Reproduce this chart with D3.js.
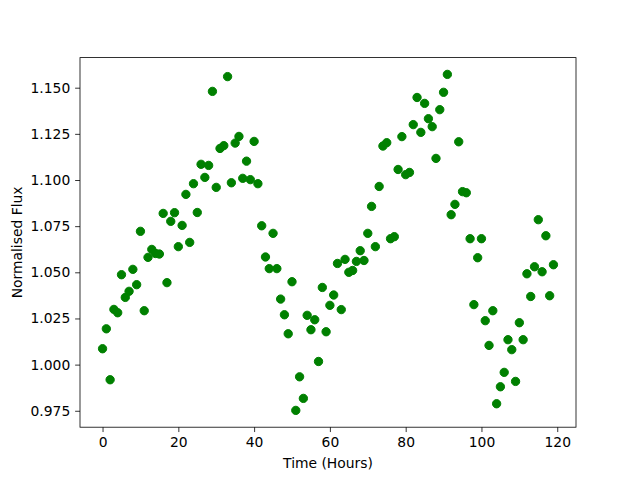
<!DOCTYPE html>
<html>
<head>
<meta charset="utf-8">
<script src="https://cdn.jsdelivr.net/npm/d3@7"></script>
<style>
  html, body { margin: 0; padding: 0; background: #fff; }
  svg { display: block; font-family: "DejaVu Sans", sans-serif; }
</style>
</head>
<body>
<svg id="chart" width="640" height="480"></svg>
<script>
// ---- data ----
const hours = d3.range(0, 120);
const flux = [
  1.0086, 1.0194, 0.9918, 1.0299, 1.0281, 1.0487, 1.0364, 1.0397, 1.0516, 1.0433,
  1.0722, 1.0292, 1.0581, 1.0624, 1.0602, 1.0599, 1.0819, 1.0444, 1.0776, 1.0823,
  1.0639, 1.0754, 1.0922, 1.0662, 1.0980, 1.0824, 1.1085, 1.1014, 1.1079, 1.1480,
  1.0960, 1.1171, 1.1186, 1.1560, 1.0985, 1.1200, 1.1236, 1.1009, 1.1102, 1.1002,
  1.1209, 1.0980, 1.0752, 1.0583, 1.0520, 1.0711, 1.0520, 1.0355, 1.0270, 1.0167,
  1.0449, 0.9752, 0.9934, 0.9817, 1.0267, 1.0189, 1.0243, 1.0017, 1.0418, 1.0178,
  1.0321, 1.0377, 1.0548, 1.0298, 1.0570, 1.0500, 1.0510, 1.0559, 1.0617, 1.0564,
  1.0711, 1.0857, 1.0639, 1.0965, 1.1184, 1.1202, 1.0682, 1.0693, 1.1057, 1.1235,
  1.1029, 1.1041, 1.1300, 1.1447, 1.1258, 1.1415, 1.1332, 1.1289, 1.1117, 1.1381,
  1.1475, 1.1572, 1.0812, 1.0868, 1.1207, 1.0937, 1.0931, 1.0682, 1.0325, 1.0579,
  1.0682, 1.0238, 1.0104, 1.0292, 0.9788, 0.9880, 0.9958, 1.0135, 1.0081, 0.9909,
  1.0227, 1.0135, 1.0492, 1.0369, 1.0530, 1.0785, 1.0503, 1.0698, 1.0373, 1.0541
];
const xTicks = [0, 20, 40, 60, 80, 100, 120];
const yTicks = [0.975, 1.000, 1.025, 1.050, 1.075, 1.100, 1.125, 1.150];
const xLabel = "Time (Hours)";
const yLabel = "Normalised Flux";

// ---- layout (matplotlib defaults) ----
const W = 640, H = 480;
const pLeft = 80, pRight = 576, pTop = 57.6, pBottom = 427.2;
const tickLen = 4.86, tickPad = 4.86, fs = 13.89;

const svg = d3.select("#chart");

function padded(ext) {
  const m = (ext[1] - ext[0]) * 0.05;
  return [ext[0] - m, ext[1] + m];
}
const x = d3.scaleLinear().domain(padded(d3.extent(hours))).range([pLeft, pRight]);
const y = d3.scaleLinear().domain(padded(d3.extent(flux))).range([pBottom, pTop]);

// points
svg.append("g")
  .selectAll("circle")
  .data(hours.map((h, i) => [h, flux[i]]))
  .join("circle")
  .attr("cx", d => x(d[0]))
  .attr("cy", d => y(d[1]))
  .attr("r", 4.17)
  .attr("fill", "#008000")
  .attr("stroke", "#008000")
  .attr("stroke-width", 1);

// axes
const xAxis = svg.append("g")
  .attr("transform", `translate(0,${pBottom})`)
  .call(d3.axisBottom(x).tickValues(xTicks).tickFormat(d3.format("d"))
    .tickSizeInner(tickLen).tickSizeOuter(0).tickPadding(tickPad));
const yAxis = svg.append("g")
  .attr("transform", `translate(${pLeft},0)`)
  .call(d3.axisLeft(y).tickValues(yTicks).tickFormat(d3.format(".3f"))
    .tickSizeInner(tickLen).tickSizeOuter(0).tickPadding(tickPad));

[xAxis, yAxis].forEach(g => {
  g.select(".domain").remove();
  g.selectAll(".tick line").attr("stroke", "#000").attr("stroke-width", 0.8);
  g.selectAll(".tick text")
    .attr("fill", "#000")
    .style("font-family", "'DejaVu Sans', sans-serif")
    .style("font-size", fs + "px");
});

// frame
svg.append("rect")
  .attr("x", pLeft).attr("y", pTop)
  .attr("width", pRight - pLeft).attr("height", pBottom - pTop)
  .attr("fill", "none").attr("stroke", "#000").attr("stroke-width", 0.8);

// axis labels
svg.append("text")
  .attr("x", (pLeft + pRight) / 2).attr("y", 468)
  .attr("text-anchor", "middle")
  .style("font-size", fs + "px")
  .attr("fill", "#000")
  .text(xLabel);

svg.append("text")
  .attr("transform", `translate(22,${(pTop + pBottom) / 2}) rotate(-90)`)
  .attr("text-anchor", "middle")
  .style("font-size", fs + "px")
  .attr("fill", "#000")
  .text(yLabel);
</script>
</body>
</html>
